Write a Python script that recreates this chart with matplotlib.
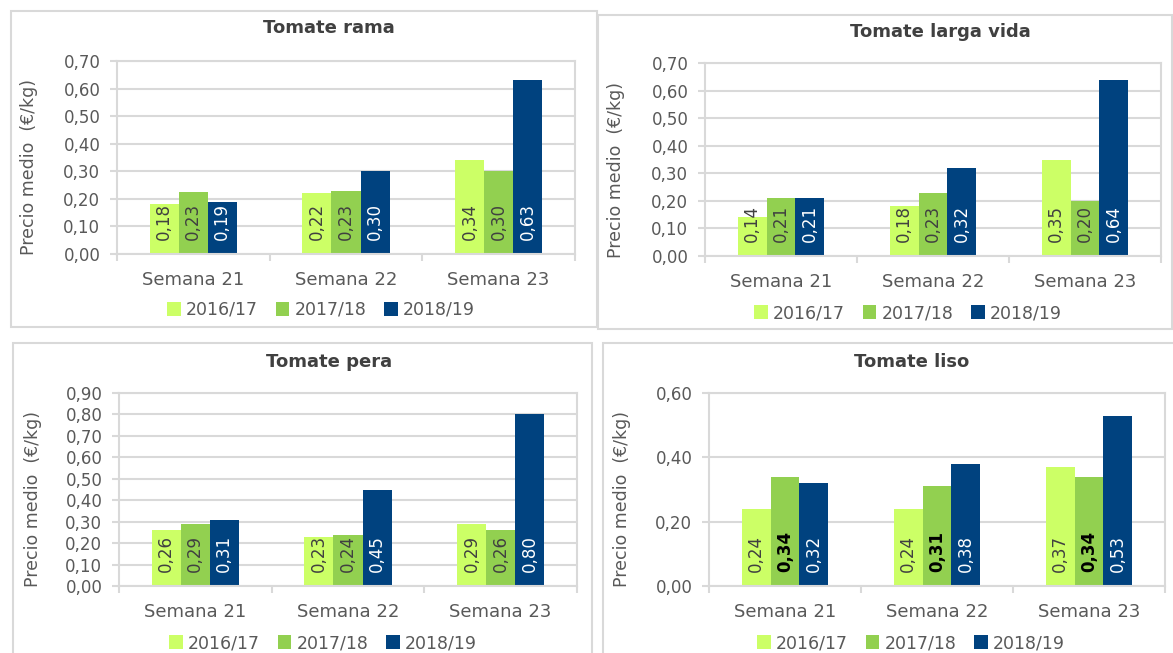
import numpy as np
import matplotlib
matplotlib.use('Agg')
import matplotlib.pyplot as plt
from matplotlib.patches import Rectangle, Patch

# datos
semanas = ['Semana 21', 'Semana 22', 'Semana 23']
temporadas = ['2016/17', '2017/18', '2018/19']

rama_1617 = [0.18, 0.22, 0.34]
rama_1718 = [0.225, 0.23, 0.30]
rama_1819 = [0.19, 0.30, 0.63]

larga_1617 = [0.14, 0.18, 0.35]
larga_1718 = [0.21, 0.23, 0.20]
larga_1819 = [0.21, 0.32, 0.64]

pera_1617 = [0.26, 0.23, 0.29]
pera_1718 = [0.29, 0.24, 0.26]
pera_1819 = [0.31, 0.45, 0.80]

liso_1617 = [0.24, 0.24, 0.37]
liso_1718 = [0.34, 0.31, 0.34]
liso_1819 = [0.32, 0.38, 0.53]

colores = ['#CCFF66', '#92D050', '#00427F']
gris = '#595959'
linea = '#D9D9D9'

W, H = 1173, 653
fig = plt.figure(figsize=(W / 100, H / 100), dpi=100)
fig.patch.set_facecolor('white')


def fx(x):
    return x / W


def fy(y):
    return 1 - y / H


def rect(l, t, r, b):
    return [l / W, 1 - b / H, (r - l) / W, (b - t) / H]


def fmt(v):
    return f'{v:.2f}'.replace('.', ',')


paneles = [
    dict(titulo='Tomate rama', series=[rama_1617, rama_1718, rama_1819],
         ymax=0.70, paso=0.10, caja=(11, 11, 597, 327), eje=(117, 61, 575, 254),
         tit=(329, 28), ylab=(29, 167), leg=(321, 310), negrita=False),
    dict(titulo='Tomate larga vida', series=[larga_1617, larga_1718, larga_1819],
         ymax=0.70, paso=0.10, caja=(598, 15, 1172, 329), eje=(705, 63, 1161, 256),
         tit=(940, 32), ylab=(616, 170), leg=(908, 313), negrita=False),
    dict(titulo='Tomate pera', series=[pera_1617, pera_1718, pera_1819],
         ymax=0.90, paso=0.10, caja=(13, 343, 592, 660), eje=(119, 393, 577, 586),
         tit=(329, 362), ylab=(33, 499), leg=(323, 643), negrita=False),
    dict(titulo='Tomate liso', series=[liso_1617, liso_1718, liso_1819],
         ymax=0.60, paso=0.20, caja=(603, 343, 1180, 660), eje=(709, 393, 1165, 586),
         tit=(912, 362), ylab=(622, 499), leg=(911, 643), negrita=True),
]

x = np.arange(len(semanas))
w = 0.19

for p in paneles:
    l, t, r, b = p['caja']
    fig.patches.append(Rectangle((l / W, 1 - b / H), (r - l) / W, (b - t) / H,
                                 transform=fig.transFigure, fill=False,
                                 edgecolor=linea, lw=1.5))

    ax = fig.add_axes(rect(*p['eje']))
    ax.set_axisbelow(True)
    for i, vals in enumerate(p['series']):
        pos = x + (i - 1) * w
        ax.bar(pos, vals, width=w, color=colores[i], zorder=2)
        for xi, v in zip(pos, vals):
            if i == 2:
                col, peso = 'white', 'normal'
            elif i == 1 and p['negrita']:
                col, peso = 'black', 'bold'
            else:
                col, peso = '#404040', 'normal'
            ax.annotate(fmt(v), xy=(xi, 0), xytext=(0, 10), textcoords='offset points',
                        rotation=90, ha='center', va='bottom', fontsize=12,
                        color=col, fontweight=peso, zorder=3)

    ax.set_xlim(-0.5, 2.5)
    ax.set_ylim(0, p['ymax'])
    ticks = np.arange(0, p['ymax'] + 1e-9, p['paso'])
    ax.set_yticks(ticks)
    ax.set_yticklabels([fmt(v) for v in ticks])
    ax.set_xticks(x)
    ax.set_xticklabels(semanas)
    ax.set_xticks([-0.5, 0.5, 1.5, 2.5], minor=True)
    ax.tick_params(axis='x', which='major', length=0, pad=12, labelsize=13, labelcolor=gris)
    ax.tick_params(axis='x', which='minor', length=5, color=linea, width=1.5)
    ax.tick_params(axis='y', length=5, color=linea, width=1.5, pad=7,
                   labelsize=12, labelcolor=gris)
    ax.grid(axis='y', color=linea, lw=1.5)
    for s in ax.spines.values():
        s.set_color(linea)
        s.set_linewidth(1.5)

    fig.text(fx(p['tit'][0]), fy(p['tit'][1]), p['titulo'], ha='center', va='center',
             fontsize=13, fontweight='bold', color='#404040')
    fig.text(fx(p['ylab'][0]), fy(p['ylab'][1]), 'Precio medio  (€/kg)', ha='center',
             va='center', rotation=90, fontsize=12.5, color=gris)

    handles = [Patch(facecolor=c) for c in colores]
    ax.legend(handles, temporadas, loc='center',
              bbox_to_anchor=(fx(p['leg'][0]), fy(p['leg'][1])),
              bbox_transform=fig.transFigure, ncol=3, frameon=False,
              handlelength=0.8, handleheight=0.8, handletextpad=0.3,
              columnspacing=1.0, fontsize=12.5, labelcolor=gris)

fig.savefig('out.png', dpi=100)
